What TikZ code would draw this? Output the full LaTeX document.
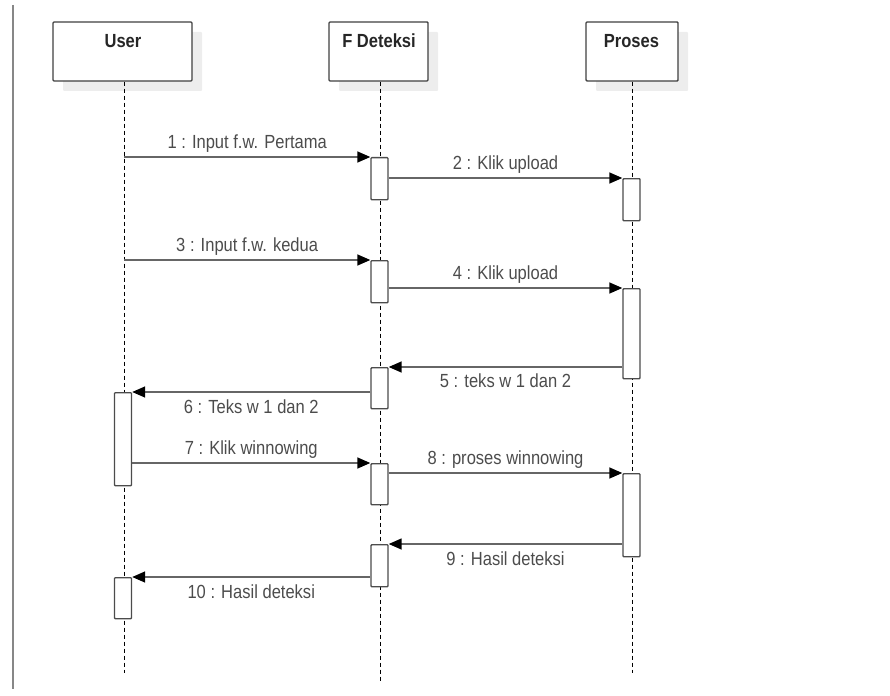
\documentclass[tikz,border=0pt]{standalone}
\usepackage{fontspec}
\setmainfont{Liberation Sans}[FakeStretch=0.87]
\usetikzlibrary{arrows.meta,shadows}
\begin{document}
\begin{tikzpicture}[x=1pt,y=-1pt,
  hdr/.style={draw=black!75, line width=1.4pt, fill=white, rounded corners=1pt,
    minimum height=59pt, inner sep=0pt,
    general shadow={fill=black!7, shadow xshift=10pt, shadow yshift=-10pt}},
  ttl/.style={font=\fontsize{19}{21}\selectfont\bfseries, text=black!85, anchor=base, inner sep=0pt},
  life/.style={draw=black, line width=1pt, dash pattern=on 4pt off 3pt},
  act/.style={draw=black!70, line width=1.4pt, fill=white, rounded corners=0.8pt,
    minimum width=17pt, inner sep=0pt, anchor=north},
  msg/.style={draw=black!60, line width=1.5pt, -{Triangle[length=13pt,width=11pt,color=black]}},
  lbl/.style={font=\fontsize{19}{21}\selectfont, text=black!70, anchor=base, inner sep=0pt}
]
\useasboundingbox (0,0) rectangle (890,695);

% frame edge on the left
\draw[draw=black!47, line width=2pt] (13,5) -- (13,689);

% lifeline heads
\node[hdr, minimum width=139pt] (user) at (122.5,51.5) {};
\node[hdr, minimum width=99pt]  (fdet) at (378.5,51.5) {};
\node[hdr, minimum width=92pt]  (pros) at (632,51.5) {};
\node[ttl] (tuser) at (123,48)   {User};
\node[ttl] (tfdet) at (379,48)   {F Deteksi};
\node[ttl] (tpros) at (631.5,48) {Proses};

% lifelines
\coordinate (uend) at (124,673);
\coordinate (fend) at (380,682);
\coordinate (pend) at (632,673);
\draw[life] (uend |- user.south) -- (uend);
\draw[life] (fend |- fdet.south) -- (fend);
\draw[life] (pend |- pros.south) -- (pend);

% activation bars
\node[act, minimum height=93pt] (U1) at (123,392) {};
\node[act, minimum height=41pt] (U2) at (123,577) {};
\node[act, minimum height=42pt] (F1) at (379.5,157) {};
\node[act, minimum height=42pt] (F2) at (379.5,260) {};
\node[act, minimum height=41pt] (F3) at (379.5,367) {};
\node[act, minimum height=41pt] (F4) at (379.5,463) {};
\node[act, minimum height=42pt] (F5) at (379.5,544) {};
\node[act, minimum height=42pt] (P1) at (631.5,178) {};
\node[act, minimum height=90pt] (P2) at (631.5,288) {};
\node[act, minimum height=83pt] (P3) at (631.5,473) {};

% messages
\coordinate (u1) at (124,157);
\coordinate (u3) at (124,260);
\draw[msg] (u1) -- (F1.north west)
  node[lbl, midway, yshift=8.5pt] {1 : Input f.w. Pertama};
\draw[msg] (F1.east |- P1.north) -- (P1.north west)
  node[lbl, midway, yshift=8.5pt] {2 : Klik upload};
\draw[msg] (u3) -- (F2.north west)
  node[lbl, midway, yshift=8.5pt] {3 : Input f.w. kedua};
\draw[msg] (F2.east |- P2.north) -- (P2.north west)
  node[lbl, midway, yshift=8.5pt] {4 : Klik upload};
\draw[msg] (P2.west |- F3.north) -- (F3.north east)
  node[lbl, midway, yshift=-20.5pt] {5 : teks w 1 dan 2};
\draw[msg] (F3.west |- U1.north) -- (U1.north east)
  node[lbl, midway, yshift=-21.5pt] {6 : Teks w 1 dan 2};
\draw[msg] (U1.east |- F4.north) -- (F4.north west)
  node[lbl, midway, yshift=8.5pt] {7 : Klik winnowing};
\draw[msg] (F4.east |- P3.north) -- (P3.north west)
  node[lbl, midway, yshift=8.5pt] {8 : proses winnowing};
\draw[msg] (P3.west |- F5.north) -- (F5.north east)
  node[lbl, midway, yshift=-21pt] {9 : Hasil deteksi};
\draw[msg] (F5.west |- U2.north) -- (U2.north east)
  node[lbl, midway, yshift=-21pt] {10 : Hasil deteksi};
\end{tikzpicture}
\end{document}
